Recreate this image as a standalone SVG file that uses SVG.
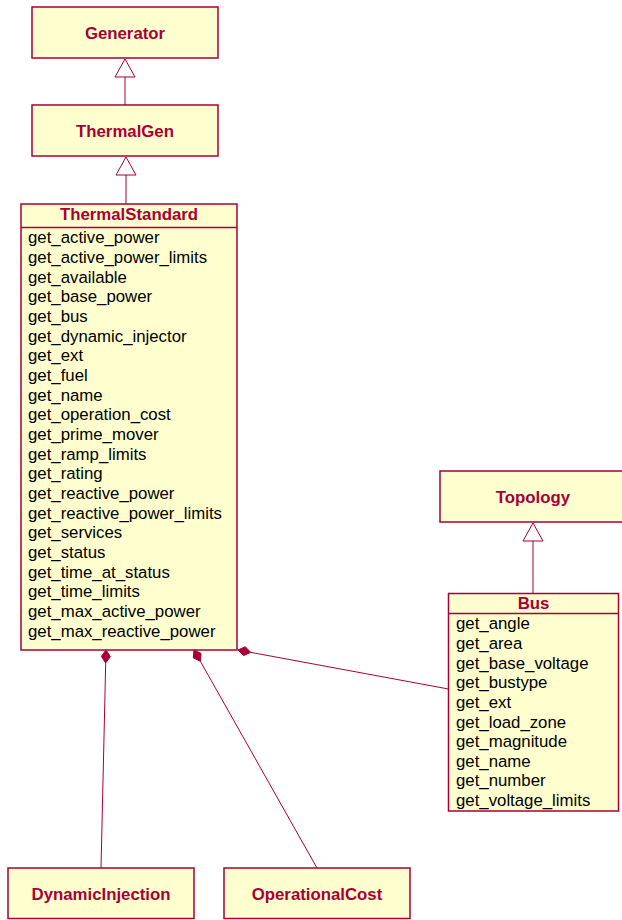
<svg xmlns="http://www.w3.org/2000/svg" width="622" height="920" viewBox="0 0 622 920">
<style>
.box{fill:#FEFECE;stroke:#A80036;stroke-width:1.5}
.sep{stroke:#A80036;stroke-width:1.5}
.title{font-family:"Liberation Sans",Arial,Helvetica,sans-serif;font-size:16.8px;font-weight:bold;fill:#A80036;text-anchor:middle}
.item{font-family:"Liberation Sans",Arial,Helvetica,sans-serif;font-size:16.8px;fill:#000000}
.edge{stroke:#A80036;stroke-width:1;fill:none}
.tri{fill:none;stroke:#A80036;stroke-width:1}
.dia{fill:#A80036;stroke:#A80036;stroke-width:1}
</style>
<rect width="622" height="920" fill="#FFFFFF"/>
<g id="Generator">
<rect class="box" x="32" y="7" width="186" height="51"/>
<text class="title" x="125" y="38.5">Generator</text>
</g>
<g id="ThermalGen">
<rect class="box" x="32" y="105" width="186" height="51"/>
<text class="title" x="125" y="137">ThermalGen</text>
</g>
<g id="ThermalStandard">
<rect class="box" x="21" y="204" width="216" height="446"/>
<line class="sep" x1="21" y1="227.5" x2="237" y2="227.5"/>
<text class="title" x="129" y="220">ThermalStandard</text>
<text class="item" x="28" y="243.3">get_active_power</text>
<text class="item" x="28" y="263">get_active_power_limits</text>
<text class="item" x="28" y="282.6">get_available</text>
<text class="item" x="28" y="302.3">get_base_power</text>
<text class="item" x="28" y="322">get_bus</text>
<text class="item" x="28" y="341.6">get_dynamic_injector</text>
<text class="item" x="28" y="361.3">get_ext</text>
<text class="item" x="28" y="381">get_fuel</text>
<text class="item" x="28" y="400.7">get_name</text>
<text class="item" x="28" y="420.3">get_operation_cost</text>
<text class="item" x="28" y="440">get_prime_mover</text>
<text class="item" x="28" y="459.7">get_ramp_limits</text>
<text class="item" x="28" y="479.3">get_rating</text>
<text class="item" x="28" y="499">get_reactive_power</text>
<text class="item" x="28" y="518.7">get_reactive_power_limits</text>
<text class="item" x="28" y="538.3">get_services</text>
<text class="item" x="28" y="558">get_status</text>
<text class="item" x="28" y="577.7">get_time_at_status</text>
<text class="item" x="28" y="597.4">get_time_limits</text>
<text class="item" x="28" y="617">get_max_active_power</text>
<text class="item" x="28" y="636.7">get_max_reactive_power</text>
</g>
<g id="Topology">
<rect class="box" x="440" y="471" width="186" height="51"/>
<text class="title" x="533" y="502.5">Topology</text>
</g>
<g id="Bus">
<rect class="box" x="448.5" y="593.5" width="170" height="217.5"/>
<line class="sep" x1="448.5" y1="613.5" x2="618.5" y2="613.5"/>
<text class="title" x="533.5" y="608.5">Bus</text>
<text class="item" x="456" y="629.3">get_angle</text>
<text class="item" x="456" y="649">get_area</text>
<text class="item" x="456" y="668.6">get_base_voltage</text>
<text class="item" x="456" y="688.2">get_bustype</text>
<text class="item" x="456" y="707.8">get_ext</text>
<text class="item" x="456" y="727.5">get_load_zone</text>
<text class="item" x="456" y="747.1">get_magnitude</text>
<text class="item" x="456" y="766.7">get_name</text>
<text class="item" x="456" y="786.4">get_number</text>
<text class="item" x="456" y="806">get_voltage_limits</text>
</g>
<g id="DynamicInjection">
<rect class="box" x="8" y="868" width="186" height="50.5"/>
<text class="title" x="101" y="899.5">DynamicInjection</text>
</g>
<g id="OperationalCost">
<rect class="box" x="224" y="868" width="186" height="50.5"/>
<text class="title" x="317" y="899.5">OperationalCost</text>
</g>
<g id="connectors">
<line class="edge" x1="125" y1="77" x2="125" y2="105"/>
<polygon class="tri" points="125,59 135,77 115,77"/>
<line class="edge" x1="126" y1="175" x2="126" y2="204"/>
<polygon class="tri" points="126,157 136,175 116,175"/>
<line class="edge" x1="533" y1="541" x2="533" y2="593.5"/>
<polygon class="tri" points="533,523 543,541 523,541"/>
<line class="edge" x1="105.7" y1="663" x2="101" y2="868"/>
<polygon class="dia" points="106,650 110.35,656.6 105.7,663 101.35,656.4"/>
<line class="edge" x1="200.39" y1="661.32" x2="317" y2="868"/>
<polygon class="dia" points="194,650 201.11,653.45 200.39,661.32 193.27,657.87"/>
<line class="edge" x1="250.78" y1="652.37" x2="448.5" y2="689"/>
<polygon class="dia" points="238,650 245.21,646.76 250.78,652.37 243.57,655.6"/>
</g>
</svg>
